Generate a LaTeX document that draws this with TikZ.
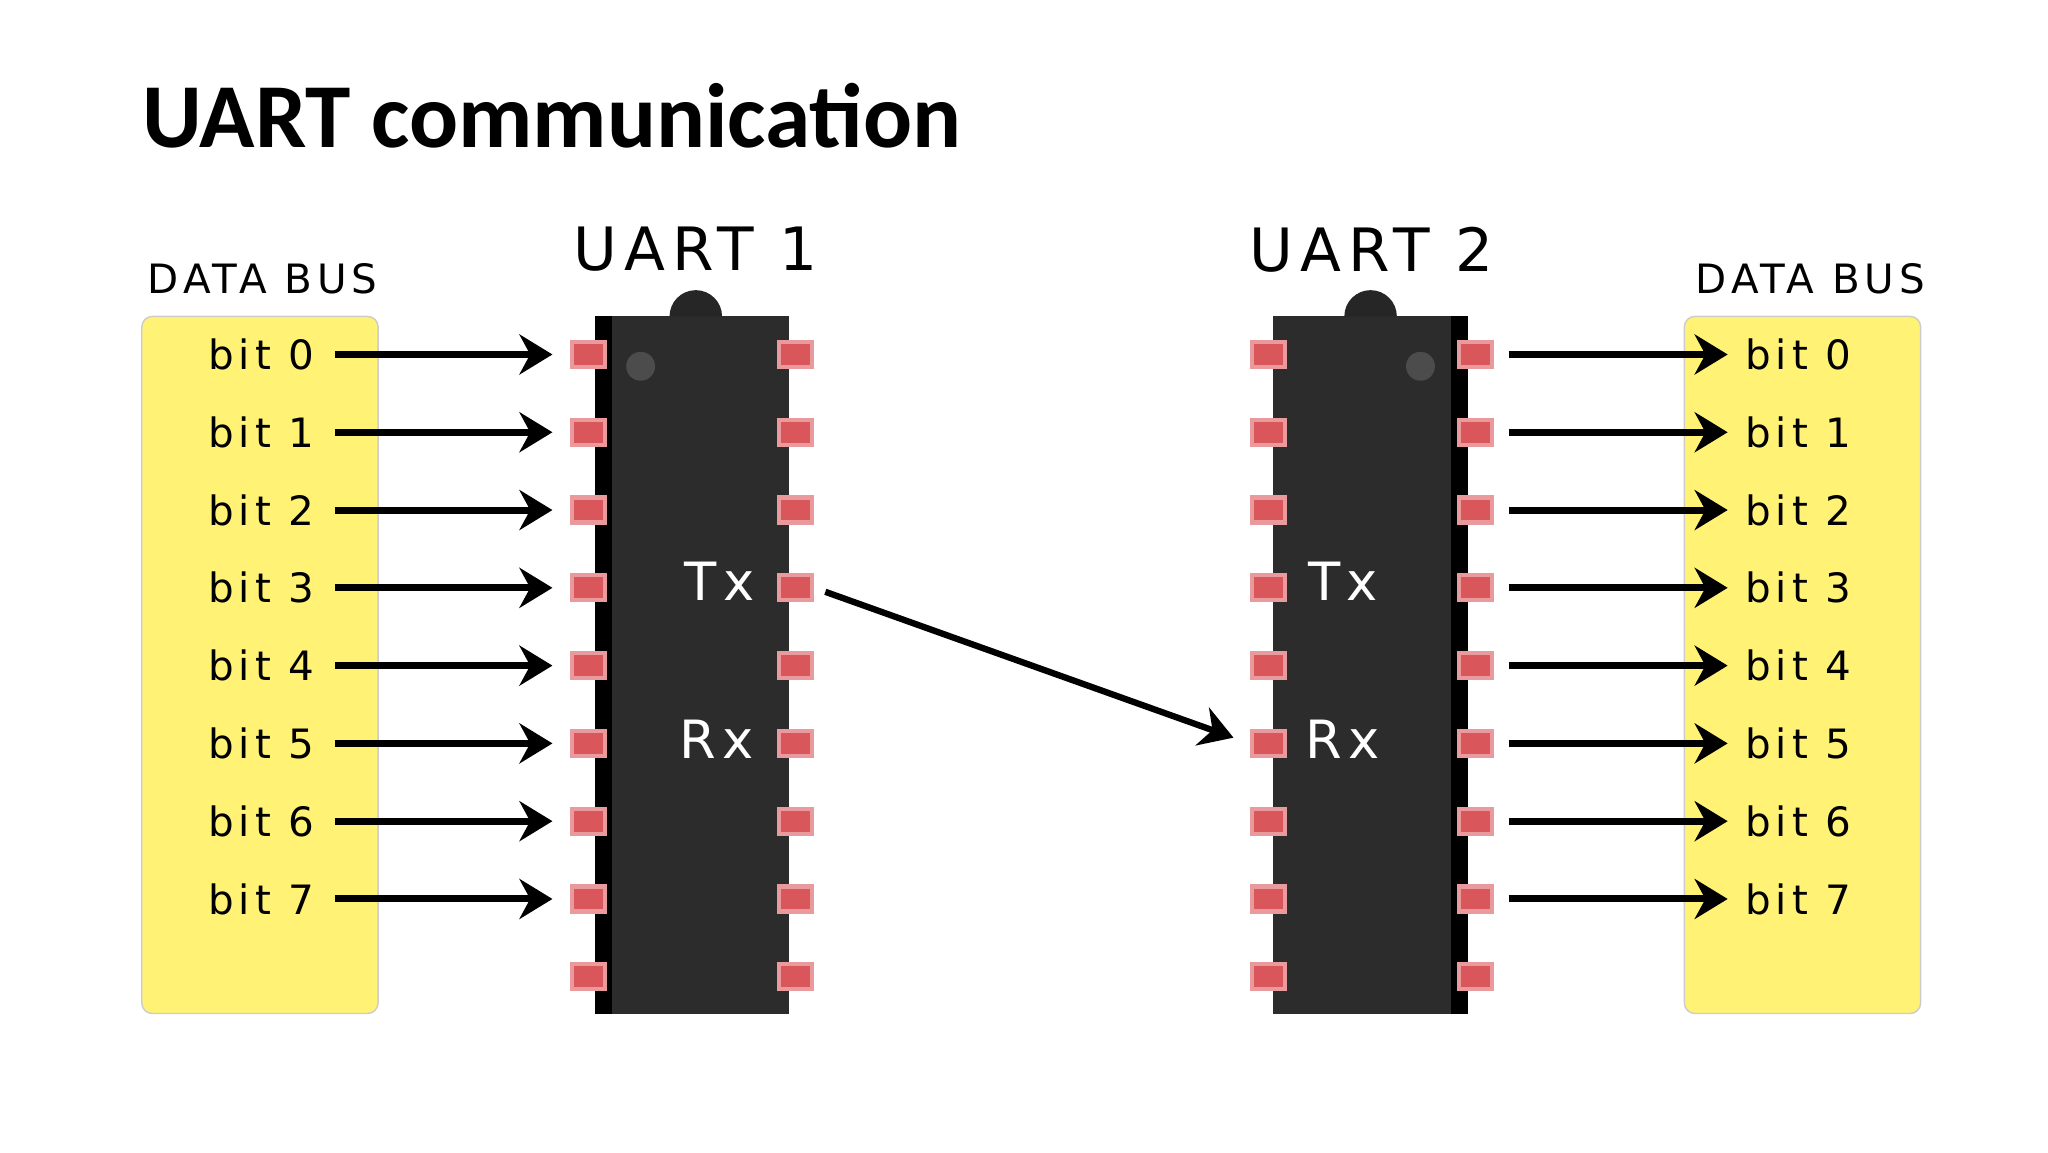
\documentclass[tikz,border=0pt]{standalone}
\usepackage{fontspec}
\setmainfont{Carlito}
\newfontfamily\gothic[LetterSpace=12]{DejaVu Sans}
\usetikzlibrary{arrows.meta,positioning}
\definecolor{busyellow}{HTML}{FFF275}
\definecolor{chipgray}{HTML}{2C2C2C}
\definecolor{pinred}{HTML}{D9575A}
\begin{document}
\begin{tikzpicture}[x=0.01313cm, y=-0.01313cm,
    bus/.style = {fill=busyellow, draw=black!20, rounded corners=3pt},
    chip/.style = {fill=chipgray, draw=none},
    pin/.style = {rectangle, fill=pinred, draw=pinred!60, line width=1.2pt, minimum width=0.33cm, minimum height=0.25cm, inner sep=0},
    bit/.style = {font=\gothic\fontsize{11.5}{12}\selectfont, inner sep=0},
    chiplabel/.style = {font=\gothic\fontsize{15}{16}\selectfont, text=white, inner sep=0},
    buslabel/.style = {font=\gothic\fontsize{11.5}{12}\selectfont, inner sep=0},
    bitarrow/.style = {-{Stealth[length=0.33cm, width=0.4cm]}, line width=2pt}]
    \useasboundingbox (0,0) rectangle (1560,877.5);

    \node[anchor=base west, inner sep=0, font=\bfseries\fontsize{26}{28}\selectfont] (title) at (108,112) {UART communication};

    % data buses
    \draw[bus] (108,241) rectangle (288,772);
    \draw[bus] (1283,241) rectangle (1463,772);
    \node[buslabel] (busL) at (200,212) {DATA BUS};
    \node[buslabel] (busR) at (1379,212) {DATA BUS};

    % chips
    \fill[chipgray] (453,241) rectangle (601,772);
    \fill[black] (453,241) rectangle (466,772);
    \fill[black!85] (510,241) arc (180:360:20) -- cycle;
    \fill[black!70] (488,279) circle (11);
    \fill[chipgray] (970,241) rectangle (1118,772);
    \fill[black] (1105,241) rectangle (1118,772);
    \fill[black!85] (1024,241) arc (180:360:20) -- cycle;
    \fill[black!70] (1082,279) circle (11);

    \node[font=\gothic\fontsize{17}{18}\selectfont, inner sep=0] (uartA) at (530,190) {UART 1};
    \node[font=\gothic\fontsize{17}{18}\selectfont, inner sep=0] (uartB) at (1045,190) {UART 2};

    % pins
    \foreach \i in {0,...,8} {
      \node[pin] (aL\i) at (448,270+59.25*\i) {};
      \node[pin] (aR\i) at (606,270+59.25*\i) {};
      \node[pin] (bL\i) at (966,270+59.25*\i) {};
      \node[pin] (bR\i) at (1124,270+59.25*\i) {};
    }

    \node[chiplabel] (txA) at (548,443) {Tx};
    \node[chiplabel] (rxA) at (546,563) {Rx};
    \node[chiplabel] (txB) at (1023,443) {Tx};
    \node[chiplabel] (rxB) at (1023,563) {Rx};

    % bits and arrows
    \foreach \i in {0,...,7} {
      \node[bit, anchor=east] (inBit\i) at (240,270+59.25*\i) {bit \i};
      \node[bit, anchor=west] (outBit\i) at (1329,270+59.25*\i) {bit \i};
      \draw[bitarrow, shorten <=15*0.01313cm, shorten >=13*0.01313cm] (inBit\i.east) -- (aL\i.west);
      \draw[bitarrow, shorten <=11*0.01313cm, shorten >=13*0.01313cm] (bR\i.east) -- (outBit\i.west);
    }

    \draw[bitarrow, line width=1.8pt, shorten <=9*0.01313cm, shorten >=13*0.01313cm] (aR3.east) -- (bL5.west);
  \end{tikzpicture}
\end{document}
